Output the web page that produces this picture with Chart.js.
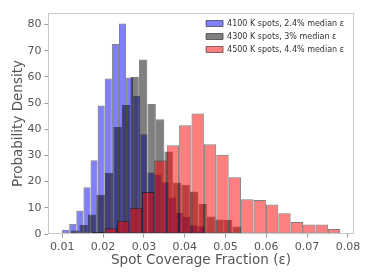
<!DOCTYPE html>
<html><head><meta charset="utf-8">
<script src="https://cdn.jsdelivr.net/npm/chart.js@4.4.0/dist/chart.umd.min.js"></script>
<style>html,body{margin:0;padding:0;background:#fff}#wrap{width:374px;height:280px;position:relative}</style>
</head><body><div id="wrap"><canvas id="c"></canvas></div>
<script>
// ---- data ----
const seriesLabels = ['4100 K spots, 2.4% median ε', '4300 K spots, 3% median ε', '4500 K spots, 4.4% median ε'];
// histogram bins (start of first bin, bin width) for each series
const blueBinStart = 0.00995, blueBinWidth = 0.001743;
const grayBinStart = 0.01211, grayBinWidth = 0.002083;
const redBinStart  = 0.01735, redBinWidth  = 0.00304;
// probability density per bin
const blueDensity = [1.65, 3.9, 8.9, 17.9, 28.2, 49.1, 59.4, 72.6, 80.4, 59.8, 52.7, 38.1, 23.5, 22.6, 19.8, 13.9, 8.0, 6.5, 3.3, 3.0];
const grayDensity = [1.3, 3.4, 7.4, 15.0, 23.4, 40.9, 49.3, 60.0, 66.6, 49.6, 43.8, 31.5, 19.7, 18.8, 16.2, 11.5, 6.7, 5.5, 5.4, 2.9];
const redDensity  = [0.9, 2.2, 5.1, 10.0, 16.0, 28.1, 33.9, 41.5, 46.0, 34.3, 30.3, 21.7, 13.3, 13.0, 11.3, 7.9, 4.6, 3.6, 3.6, 1.9];
const xTicks = [0.01, 0.02, 0.03, 0.04, 0.05, 0.06, 0.07, 0.08];
const yTicks = [0, 10, 20, 30, 40, 50, 60, 70, 80];
const xRange = [0.0065, 0.0815];
const yRange = [0, 84.4];

// ---- chart ----
const FAM = "'DejaVu Sans', sans-serif";
const TXT = '#555555';
function binPoints(start, width, vals) {
  return vals.map((v, i) => ({ x: start + width * (i + 0.5), y: v }));
}
// bar thickness in pixels = one bin width measured on the x scale
function binThickness(width) {
  return ctx => {
    const s = ctx.chart.scales.x;
    return Math.abs(s.getPixelForValue(xRange[0] + width) - s.getPixelForValue(xRange[0]));
  };
}

const framePlugin = {
  id: 'frame',
  afterDatasetsDraw(chart) {
    const { ctx, chartArea: a } = chart;
    ctx.save();
    ctx.strokeStyle = '#c8c8c8';
    ctx.lineWidth = 1;
    ctx.strokeRect(Math.round(a.left) + 0.5, Math.round(a.top) + 0.5,
                   Math.round(a.right - a.left) - 1, Math.round(a.bottom - a.top) - 1);
    ctx.restore();
  }
};
const legendPlace = {
  id: 'legendPlace',
  afterLayout(chart) {
    const lg = chart.legend, a = chart.chartArea;
    if (!lg || !lg.columnSizes || !lg.columnSizes.length) return;
    const pad = lg.options.labels.padding;
    const colW = lg.columnSizes[0].width;
    const h = lg.height;
    lg.left = a.right - colW - 10 - pad;
    lg.right = lg.left + colW + 2 * pad;
    lg.width = lg.right - lg.left;
    lg.top = a.top + 1.5;
    lg.bottom = lg.top + h;
  }
};

const common = { borderColor: 'rgba(0,0,0,0.5)', borderWidth: 1, borderSkipped: false,
                 barPercentage: 1, categoryPercentage: 1, stack: 'hist', inflateAmount: 0 };

new Chart(document.getElementById('c'), {
  type: 'bar',
  data: {
    datasets: [
      Object.assign({ label: seriesLabels[0], data: binPoints(blueBinStart, blueBinWidth, blueDensity),
        backgroundColor: 'rgba(0,0,255,0.5)', barThickness: binThickness(blueBinWidth), order: 2 }, common),
      Object.assign({ label: seriesLabels[1], data: binPoints(grayBinStart, grayBinWidth, grayDensity),
        backgroundColor: 'rgba(0,0,0,0.5)', barThickness: binThickness(grayBinWidth), order: 1 }, common),
      Object.assign({ label: seriesLabels[2], data: binPoints(redBinStart, redBinWidth, redDensity),
        backgroundColor: 'rgba(255,0,0,0.5)', barThickness: binThickness(redBinWidth), order: 0 }, common)
    ]
  },
  options: {
    responsive: true,
    maintainAspectRatio: false,
    animation: false,
    events: [],
    layout: { padding: { top: 13, right: 20, left: 0, bottom: 0 } },
    plugins: {
      tooltip: { enabled: false },
      legend: {
        position: 'chartArea',
        align: 'start',
        labels: {
          boxWidth: 17, boxHeight: 6, padding: 5, color: '#333333',
          font: { family: FAM, size: 8 },
          sort: (a, b) => a.datasetIndex - b.datasetIndex
        }
      }
    },
    scales: {
      x: {
        type: 'linear', position: 'bottom', min: xRange[0], max: xRange[1], offset: false,
        afterBuildTicks: s => { s.ticks = xTicks.map(v => ({ value: v })); },
        afterFit: s => { s.height = 46; },
        ticks: { color: TXT, font: { family: FAM, size: 11 }, padding: 3, maxRotation: 0, autoSkip: false,
                 callback: v => Number(v).toFixed(2) },
        grid: { display: true, drawOnChartArea: false, offset: false, tickLength: 3.5, tickColor: '#999999' },
        border: { display: false },
        title: { display: true, text: 'Spot Coverage Fraction (ε)', color: TXT,
                 font: { family: FAM, size: 13.5 }, padding: { top: 0, bottom: 11.4 } }
      },
      y: {
        type: 'linear', min: yRange[0], max: yRange[1], stacked: false,
        afterBuildTicks: s => { s.ticks = yTicks.map(v => ({ value: v })); },
        afterFit: s => { s.width = 48; },
        ticks: { color: TXT, font: { family: FAM, size: 11 }, padding: 3 },
        grid: { display: true, drawOnChartArea: false, tickLength: 3.5, tickColor: '#999999' },
        border: { display: false },
        title: { display: true, text: 'Probability Density', color: TXT,
                 font: { family: FAM, size: 13.5 }, padding: { top: 9.9, bottom: 0 } }
      }
    }
  },
  plugins: [framePlugin, legendPlace]
});
</script>
</body></html>
